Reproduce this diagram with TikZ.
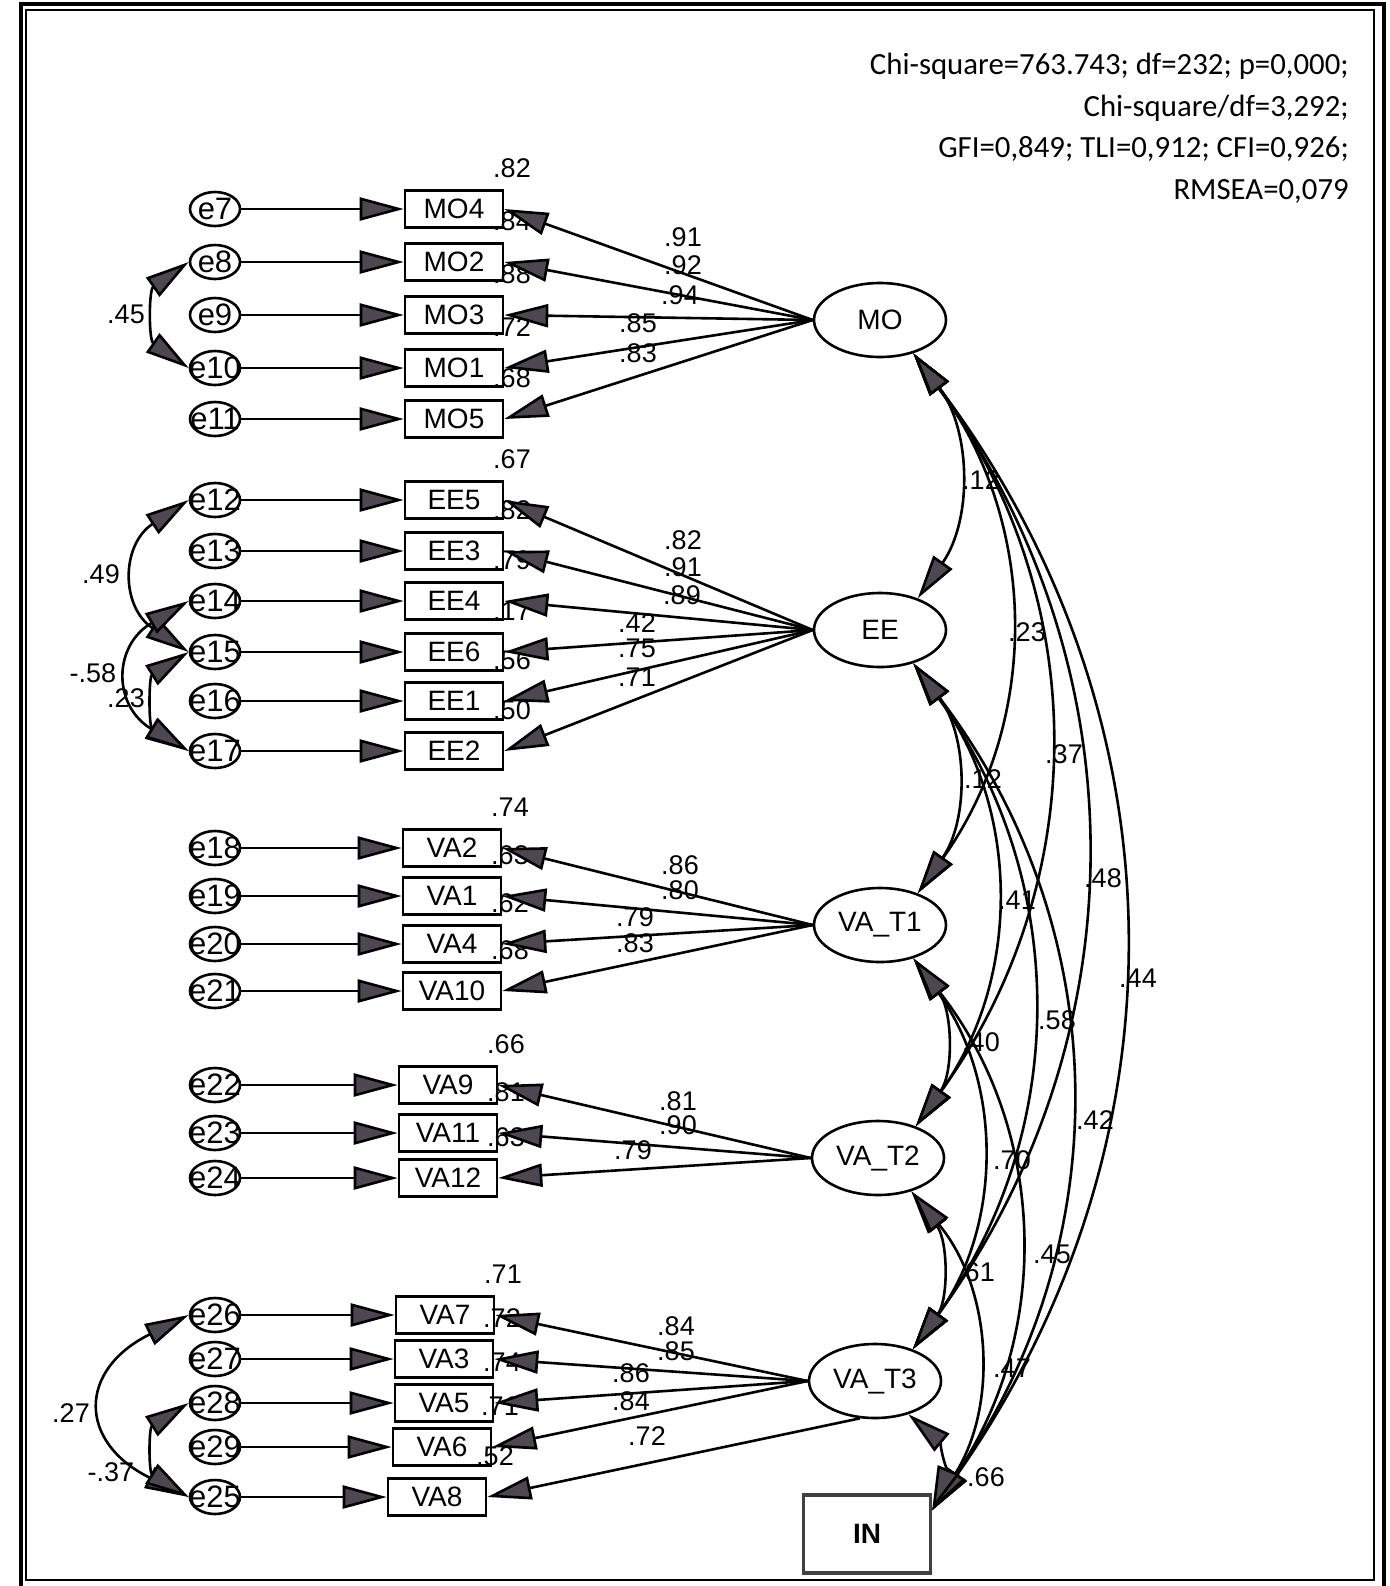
\documentclass[tikz,border=0pt]{standalone}
\usepackage{fontspec}
\setmainfont{Liberation Sans}
\newfontfamily\fitfont{Carlito}
\usetikzlibrary{arrows.meta,shapes.geometric}
\definecolor{tipgray}{HTML}{4E4650}

\begin{document}
\begin{tikzpicture}[x=0.5pt, y=-0.5pt, line width=1.3pt,
    >={Triangle[length=22pt, width=11.5pt, fill=tipgray]},
    err/.style={draw, ellipse, minimum width=25pt, minimum height=17pt, inner sep=0pt, font=\fontsize{15.5}{15.5}\selectfont},
    obs/.style={draw, fill=white, minimum width=49pt, minimum height=18.5pt, inner sep=0pt, font=\fontsize{14}{14}\selectfont},
    lat/.style={draw, fill=white, ellipse, minimum width=66pt, minimum height=37pt, inner sep=0pt, font=\fontsize{14}{14}\selectfont},
    est/.style={inner sep=0pt, font=\fontsize{13.5}{13.5}\selectfont},
    cov/.style={<->, bend left=36}]
  \useasboundingbox (0,0) rectangle (1390,1586);
  % frame
  \draw[line width=2.4pt] (21,4) rectangle (1384,1600);
  \draw[line width=1pt] (26,10) rectangle (1374,1580);
  % fit indices
  \node[anchor=north east, align=right, inner sep=0pt, font=\fitfont\fontsize{15.4}{20.8}\selectfont] (fit) at (1350,52)
    {Chi-square=763.743; df=232; p=0,000;\\ Chi-square/df=3,292;\\ GFI=0,849; TLI=0,912; CFI=0,926;\\ RMSEA=0,079};

  % latent variables
  \node[lat] (MO) at (880,320) {MO};
  \node[lat] (EE) at (880,630) {EE};
  \node[lat] (VAT1) at (880,925) {VA\_T1};
  \node[lat] (VAT2) at (878,1158) {VA\_T2};
  \node[lat] (VAT3) at (875,1381) {VA\_T3};
  \node[draw=black!75, line width=1.6pt, minimum width=63.5pt, minimum height=39pt, font=\bfseries\fontsize{14}{14}\selectfont] (IN) at (867,1534) {IN};

  % indicators: name/error/y/x/R2/loading/label x/label y
  \foreach \n/\e/\y/\bx/\r/\l/\lx/\ly in {
      MO4/7/209/454/.82/.91/683/237, MO2/8/262/454/.84/.92/683/265,
      MO3/9/315/454/.88/.94/680/295, MO1/10/368/454/.72/.85/638/323,
      MO5/11/419/454/.68/.83/638/353,
      EE5/12/500/454/.67/.82/683/540, EE3/13/551/454/.82/.91/683/567,
      EE4/14/601/454/.79/.89/682/595, EE6/15/652/454/.17/.42/637/623,
      EE1/16/701/454/.56/.75/637/648, EE2/17/751/454/.50/.71/637/677,
      VA2/18/848/452/.74/.86/680/865, VA1/19/896/452/.63/.80/680/890,
      VA4/20/944/452/.62/.79/635/917, VA10/21/991/452/.68/.83/635/943,
      VA9/22/1085/448/.66/.81/678/1101, VA11/23/1133/448/.81/.90/678/1125,
      VA12/24/1178/448/.63/.79/633/1150,
      VA7/26/1315/445/.71/.84/676/1326, VA3/27/1359/444/.72/.85/676/1351,
      VA5/28/1403/444/.74/.86/631/1373, VA6/29/1447/442/.71/.84/631/1401,
      VA8/25/1497/437/.52/.72/647/1436}{
    \node[err] (e\e) at (215,\y) {\makebox[0pt]{e\e}};
    \node[obs] (\n) at (\bx,\y) {\n};
    \node[est] (r-\n) at (\bx+58,\y-41) {\r};
    \node[est] (w-\n) at (\lx,\ly) {\l};
  }
  \foreach \n/\e/\f/\s in {MO4/7/MO/west, MO2/8/MO/west, MO3/9/MO/west, MO1/10/MO/west, MO5/11/MO/west,
      EE5/12/EE/west, EE3/13/EE/west, EE4/14/EE/west, EE6/15/EE/west, EE1/16/EE/west, EE2/17/EE/west,
      VA2/18/VAT1/west, VA1/19/VAT1/west, VA4/20/VAT1/west, VA10/21/VAT1/west,
      VA9/22/VAT2/west, VA11/23/VAT2/west, VA12/24/VAT2/west,
      VA7/26/VAT3/west, VA3/27/VAT3/west, VA5/28/VAT3/west, VA6/29/VAT3/west, VA8/25/VAT3/-112}{
    \draw[->] (e\e) -- (\n);
    \draw[->] (\f.\s) -- (\n.east);
  }

  % error covariances
  \node[est] (c-e8-e10) at (126,314) {.45};
  \node[est] (c-e12-e15) at (101,574) {.49};
  \node[est] (c-e14-e17) at (93,673) {-.58};
  \node[est] (c-e15-e17) at (126,698) {.23};
  \node[est] (c-e26-e25) at (71,1413) {.27};
  \node[est] (c-e28-e25) at (111,1472) {-.37};
  \draw[<->] (e8.west) .. controls +(-40,28) and +(-40,-28) .. (e10.west);
  \draw[<->] (e12.west) .. controls +(-68,45) and +(-68,-45) .. (e15.west);
  \draw[<->] (e14.west) .. controls +(-76,45) and +(-76,-45) .. (e17.west);
  \draw[<->] (e15.west) .. controls +(-40,25) and +(-40,-25) .. (e17.west);
  \draw[<->] (e26.west) .. controls +(-111,55) and +(-111,-55) .. (e25.west);
  \draw[<->] (e28.west) .. controls +(-40,25) and +(-40,-25) .. (e25.west);

  % factor correlations
  \foreach \a/\b/\v/\x/\y in {MO/EE/.12/981/480, MO/VAT1/.23/1027/632, MO/VAT2/.37/1064/754,
      MO/VAT3/.48/1103/878, MO/IN/.44/1138/978, EE/VAT1/.12/983/779, EE/VAT2/.41/1017/900,
      EE/VAT3/.58/1057/1020, EE/IN/.42/1095/1120, VAT1/VAT2/.40/981/1042, VAT1/VAT3/.70/1012/1160,
      VAT1/IN/.45/1052/1254, VAT2/VAT3/.61/976/1272, VAT2/IN/.47/1012/1368, VAT3/IN/.66/986/1477}{
    \node[est] (c-\a-\b) at (\x,\y) {\v};
  }
  \foreach \a/\b in {MO/EE, MO/VAT1, MO/VAT2, MO/VAT3, EE/VAT1, EE/VAT2, EE/VAT3,
      VAT1/VAT2, VAT1/VAT3, VAT2/VAT3}{
    \draw[cov] (\a.-45) to (\b.40);
  }
  \foreach \a in {MO, EE, VAT1, VAT2, VAT3}{
    \draw[cov] (\a.-45) to (IN.20);
  }
\end{tikzpicture}
\end{document}
